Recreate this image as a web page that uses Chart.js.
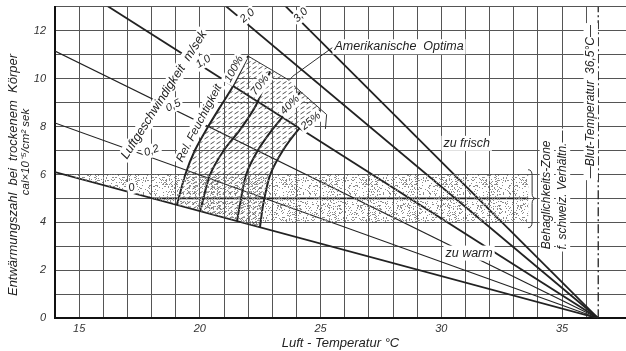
<!DOCTYPE html>
<html>
<head>
<meta charset="utf-8">
<script src="https://cdn.jsdelivr.net/npm/chart.js@4.4.0/dist/chart.umd.min.js"></script>
<style>
  html, body { margin: 0; padding: 0; background: #fff; }
</style>
</head>
<body>
<canvas id="chart" width="626" height="351"></canvas>
<script>
// Entwärmungszahl vs. Luft-Temperatur

// air speed lines (m/sek): all run down to the blood temperature point
const speedLabels = ["0", "0,2", "0,5", "1,0", "2,0", "3,0"];
const speedAt14 = [6.1, 8.15, 11.15, 14.42, 19.0, 22.62]; // value at 14 °C
const bloodTemp = 36.5;
const tempStart = 14;

// relative humidity curves [°C, value]
const rh100 = [[19.05, 4.73], [19.39, 5.98], [19.80, 7.02], [20.26, 7.86], [20.84, 8.82], [21.33, 9.61], [22.00, 10.94]];
const rh70  = [[20.01, 4.46], [20.42, 5.98], [21.00, 7.02], [21.66, 7.86], [22.33, 8.90], [22.91, 10.30]];
const rh40  = [[21.54, 4.06], [21.66, 4.73], [21.91, 5.98], [22.41, 7.02], [22.99, 7.86], [23.65, 8.69], [24.15, 9.44]];
const rh25  = [[22.49, 3.81], [22.62, 4.73], [22.91, 5.98], [23.45, 7.02], [24.07, 7.86], [24.65, 8.48], [24.98, 8.69]];

// "Amerikanische Optima" outline
const optimaTop = [[22.00, 10.94], [23.70, 9.93]];
const optimaRight = [[23.90, 9.70], [25.25, 8.50], [25.20, 7.90]];
const optimaLeader = [[23.70, 9.93], [23.85, 10.10], [25.50, 11.30]];

// Behaglichkeits-Zone (schweiz. Verhältnisse)
const comfortZone = [[14.37, 6], [33.6, 6], [33.6, 4], [22.5, 4], [22.49, 3.81], [14.37, 6]];
const comfortMid = [[18.06, 5], [33.6, 5]];

const FONT = "'Liberation Sans', Arial, sans-serif";
const INK = '#222';

function stipplePattern() {
  const c = document.createElement('canvas');
  c.width = 40; c.height = 40;
  const g = c.getContext('2d');
  g.fillStyle = '#8c8c8c';
  for (let i = 0; i < 40; i++) {
    for (let j = 0; j < 40; j++) {
      const h = Math.abs(Math.sin(i * 12.9898 + j * 78.233) * 43758.5453) % 1;
      if (h < 0.17) g.fillRect(i, j, 1, 1);
    }
  }
  return g.createPattern(c, 'repeat');
}

function hatchPattern() {
  const c = document.createElement('canvas');
  c.width = 6; c.height = 5;
  const g = c.getContext('2d');
  g.strokeStyle = '#555';
  g.lineWidth = 1;
  g.beginPath(); g.moveTo(0.5, 4); g.lineTo(4.5, 1.5); g.stroke();
  return g.createPattern(c, 'repeat');
}

const pts = arr => arr.map(p => ({x: p[0], y: p[1]}));

const hatchZone = rh100.concat([[23.82, 9.82], [25.2, 8.56]], rh25.slice().reverse(), [rh100[0]]);

const datasets = [
  {data: pts(comfortZone), fill: 'shape', backgroundColor: stipplePattern(), borderWidth: 0},
  {data: pts(hatchZone), fill: 'shape', backgroundColor: hatchPattern(), borderWidth: 0},
  {data: pts(comfortMid), borderColor: INK, borderWidth: 1.8},
];

speedAt14.forEach((v, i) => {
  const thin = i === 1 || i === 2;
  datasets.push({data: [{x: tempStart, y: v}, {x: bloodTemp, y: 0}], borderColor: INK, borderWidth: thin ? 1.1 : 1.8});
});

[rh100, rh70, rh40, rh25].forEach(c => {
  datasets.push({data: pts(c), borderColor: INK, borderWidth: 2, tension: 0.25});
});

[optimaTop, optimaRight, optimaLeader].forEach(c => {
  datasets.push({data: pts(c), borderColor: '#333', borderWidth: 1});
});

datasets.push({data: [{x: bloodTemp, y: 0}, {x: bloodTemp, y: 13}], borderColor: INK, borderWidth: 1.3, borderDash: [9, 3, 2, 3]});

datasets.forEach(d => { d.showLine = true; d.pointRadius = 0; d.pointHoverRadius = 0; });

// text on the chart: [text, °C, value, angle, size]
const notes = [
  ['0', 17.18, 5.45, -15, 11],
  ['0,2', 18.0, 6.99, -20, 11],
  ['0,5', 18.9, 8.87, -26, 11],
  ['1,0', 20.14, 10.71, -32, 11],
  ['2,0', 21.97, 12.62, -40, 11],
  ['3,0', 24.18, 12.65, -45, 11],
  ['Luftgeschwindigkeit  m/sek', 18.52, 9.32, -57.6, 12.5],
  ['Rel. Feuchtigkeit', 19.97, 8.14, -62.4, 11.5],
  ['100%', 21.42, 10.40, -62, 11],
  ['70%', 22.49, 9.73, -52, 11],
  ['40%', 23.73, 8.90, -45, 11],
  ['25%', 24.60, 8.23, -39, 11],
  ['Amerikanische  Optima', 28.25, 11.33, 0, 12.5],
  ['zu frisch', 31.05, 7.30, 0, 12.5],
  ['zu warm', 31.15, 2.72, 0, 12.5],
  ['Behaglichkeits-Zone', 34.37, 5.15, -90, 12],
  ['f. schweiz. Verhältn.—', 35.04, 5.35, -90, 12],
  ['—Blut-Temperatur  36,5°C—', 36.19, 9.04, -90, 12],
];

function text(ctx, s, x, y, angle, size, bg) {
  ctx.save();
  ctx.translate(x, y);
  ctx.rotate(angle * Math.PI / 180);
  ctx.font = `italic ${size}px ${FONT}`;
  ctx.textAlign = 'center';
  ctx.textBaseline = 'middle';
  const w = ctx.measureText(s).width;
  if (bg) {
    ctx.fillStyle = '#fff';
    ctx.fillRect(-w / 2 - 2, -size * 0.6, w + 4, size * 1.2);
  }
  ctx.fillStyle = INK;
  ctx.fillText(s, 0, 0);
  ctx.restore();
}

const notesPlugin = {
  id: 'notes',
  afterDatasetsDraw(chart) {
    const {ctx, scales: {x, y}} = chart;
    notes.forEach(n => text(ctx, n[0], x.getPixelForValue(n[1]), y.getPixelForValue(n[2]), n[3], n[4], true));

    // brace next to the comfort zone
    const bx = x.getPixelForValue(33.72), t = y.getPixelForValue(6.2), m = y.getPixelForValue(5), b = y.getPixelForValue(3.78);
    ctx.save();
    ctx.strokeStyle = '#333';
    ctx.lineWidth = 1;
    ctx.beginPath();
    ctx.moveTo(bx - 3, t);
    ctx.quadraticCurveTo(bx + 1, t, bx + 1, t + 6);
    ctx.lineTo(bx + 1, m - 5);
    ctx.quadraticCurveTo(bx + 1, m, bx + 5, m);
    ctx.quadraticCurveTo(bx + 1, m, bx + 1, m + 5);
    ctx.lineTo(bx + 1, b - 6);
    ctx.quadraticCurveTo(bx + 1, b, bx - 3, b);
    ctx.stroke();
    ctx.restore();

    // y axis title, two lines
    text(ctx, 'Entwärmungszahl  bei  trockenem  Körper', 13.5, 175, -90, 13, false);
    text(ctx, 'cal×10⁻⁵/cm² sek', 26, 152, -90, 11.5, false);
  }
};

const tickFont = {family: FONT, size: 11, style: 'italic'};

new Chart(document.getElementById('chart'), {
  type: 'scatter',
  data: {datasets},
  options: {
    responsive: false,
    animation: false,
    devicePixelRatio: 1,
    layout: {padding: {top: 6.7, right: 0, left: 0, bottom: 0}},
    plugins: {legend: {display: false}, tooltip: {enabled: false}},
    scales: {
      x: {
        type: 'linear', min: 14, max: 37.65,
        ticks: {stepSize: 1, autoSkip: false, maxRotation: 0, padding: 4, font: tickFont, color: '#333',
          callback: v => (v % 5 === 0 ? String(v) : '')},
        grid: {color: c => (c.tick && c.tick.value % 1 !== 0 ? 'rgba(0,0,0,0)' : '#555'), lineWidth: 1, drawTicks: false},
        border: {color: '#111', width: 2},
        title: {display: true, text: 'Luft - Temperatur °C', color: INK, font: {family: FONT, size: 13, style: 'italic'}, padding: {top: 0, bottom: 0}},
        afterFit: s => { s.height = 32.7; s.paddingLeft = 0; s.paddingRight = 0; }
      },
      y: {
        type: 'linear', min: 0, max: 13,
        ticks: {stepSize: 1, autoSkip: false, padding: 9, font: tickFont, color: '#333',
          callback: v => (v % 2 === 0 && v < 13 ? String(v) : '')},
        grid: {color: '#555', lineWidth: 1, drawTicks: false},
        border: {color: '#111', width: 2},
        afterFit: s => { s.width = 55; s.paddingTop = 0; s.paddingBottom = 0; }
      }
    }
  },
  plugins: [notesPlugin]
});
</script>
</body>
</html>
